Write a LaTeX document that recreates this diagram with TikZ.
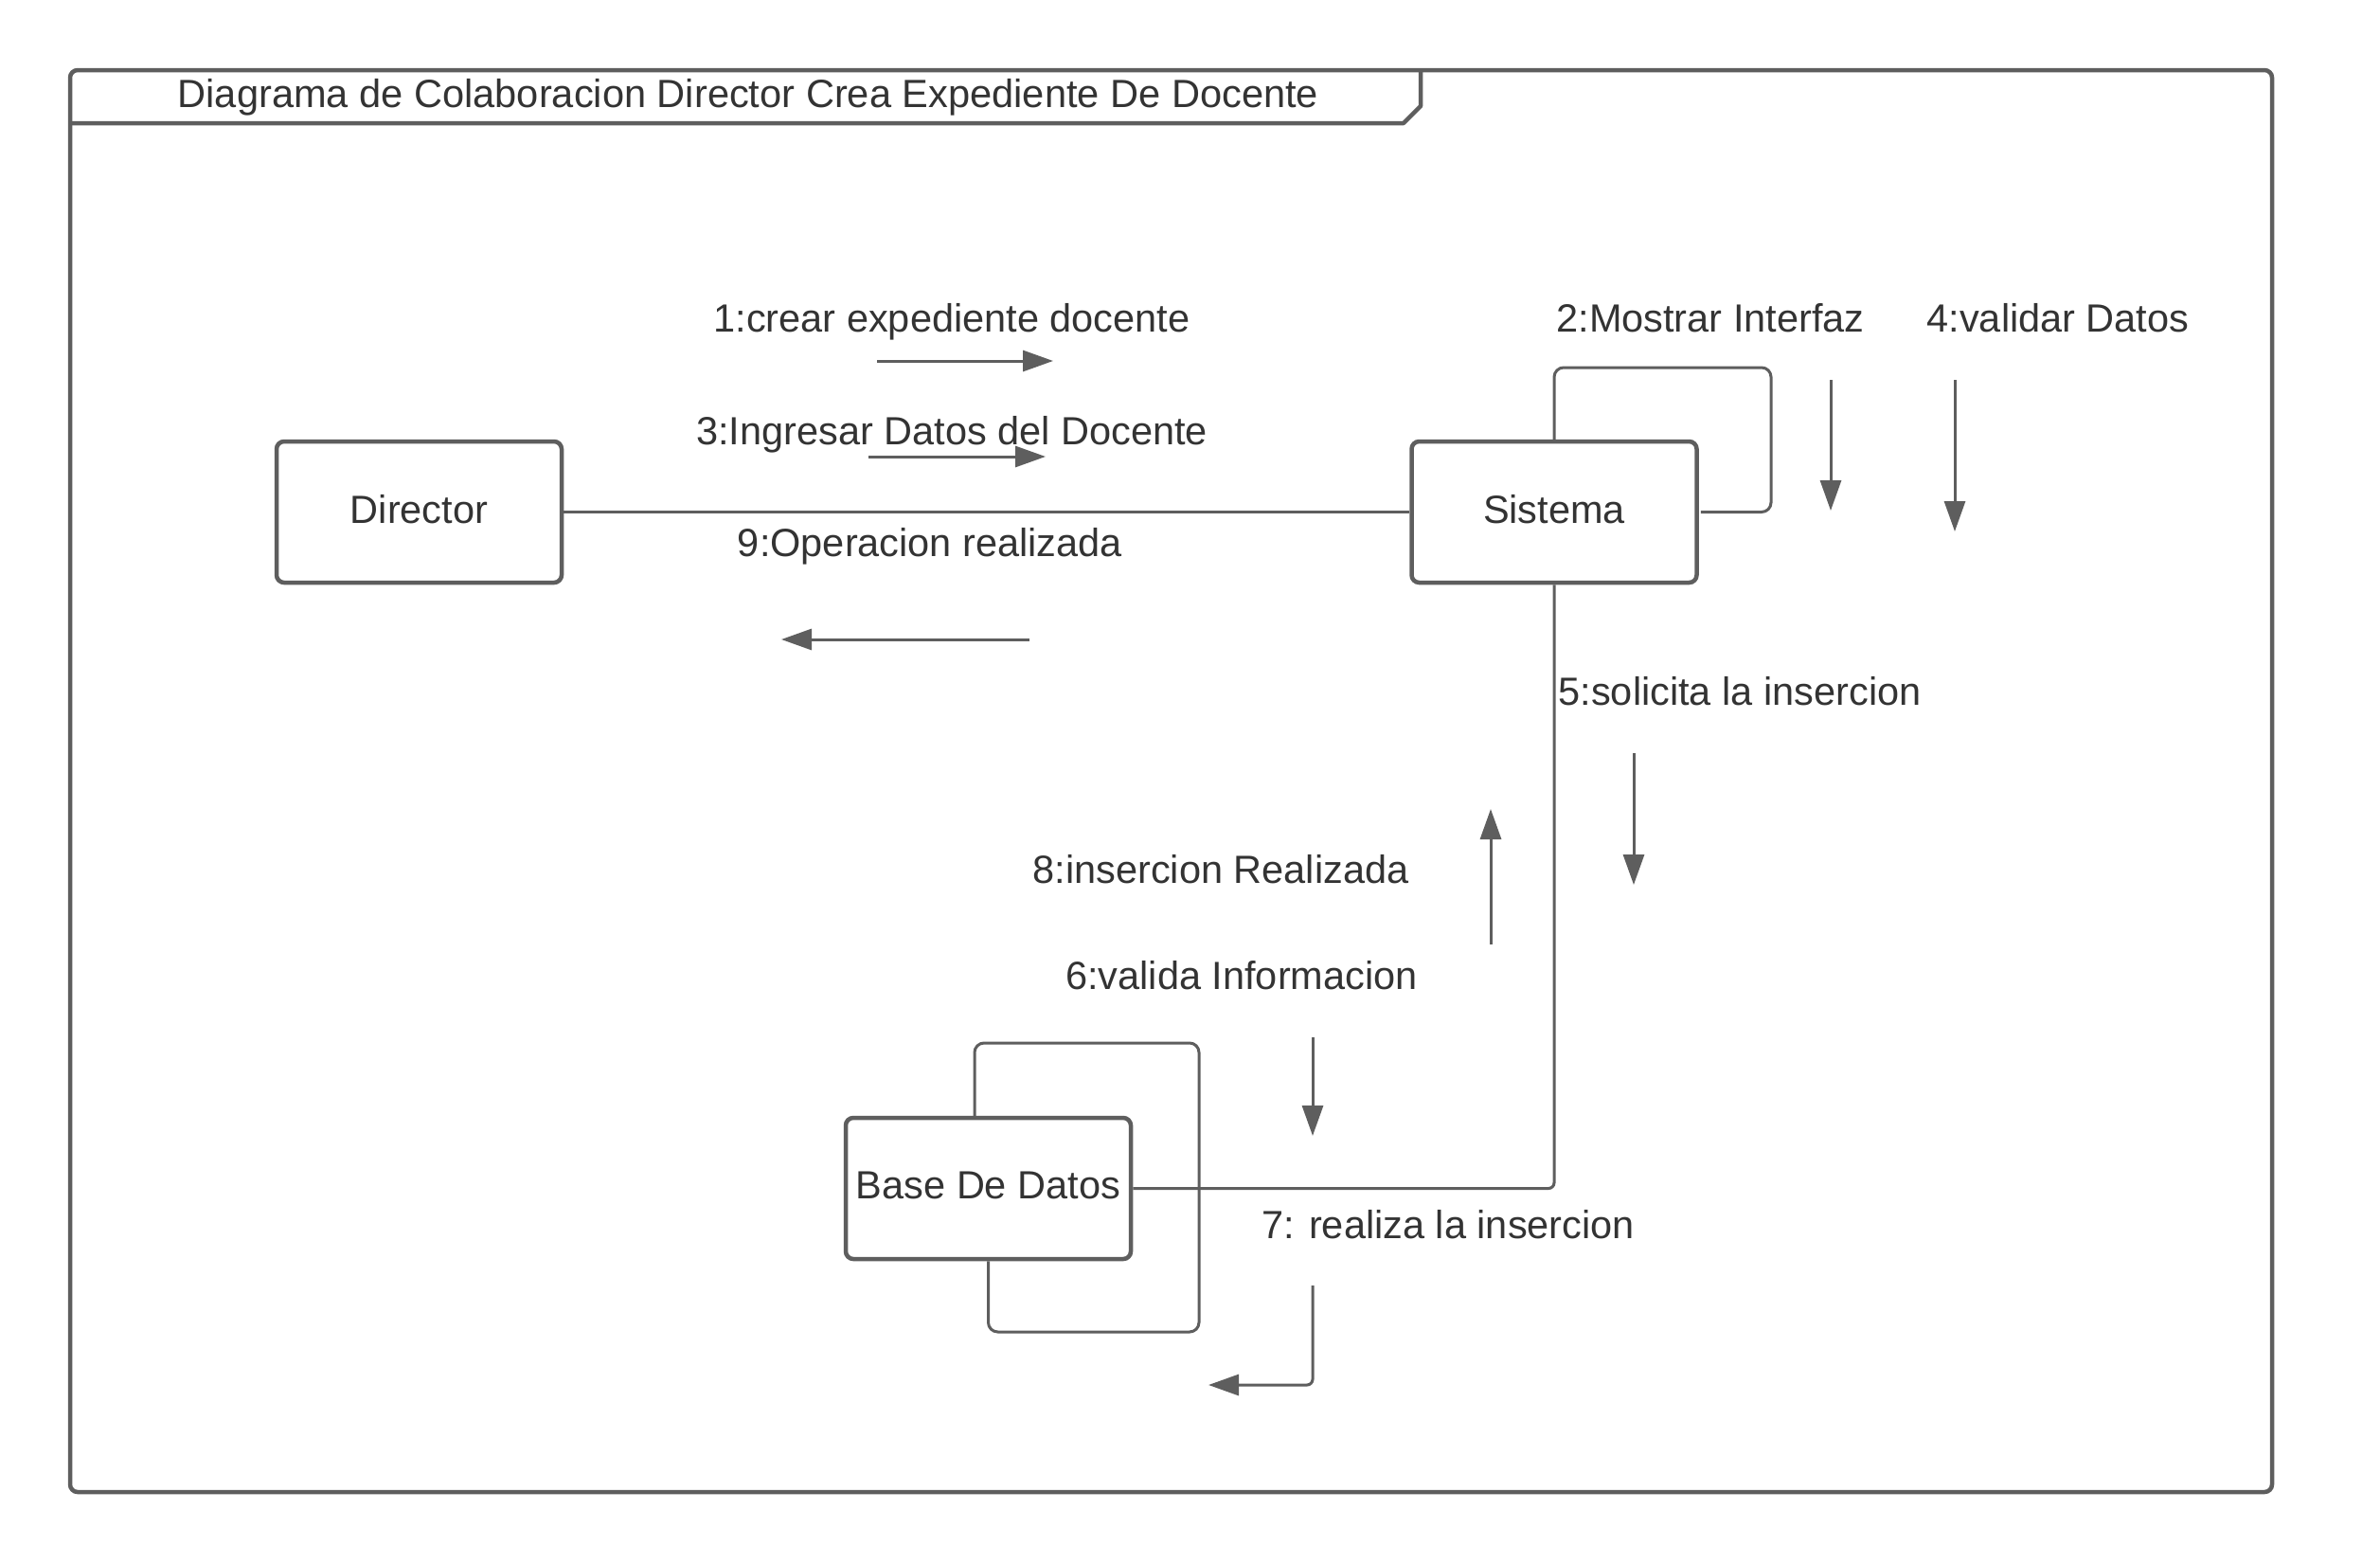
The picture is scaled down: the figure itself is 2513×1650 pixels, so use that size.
\documentclass[tikz,border=0pt]{standalone}
\usepackage{fontspec}
\setmainfont{Liberation Sans}
\usetikzlibrary{arrows.meta}
\definecolor{ln}{HTML}{5E5E5E}
\definecolor{tx}{HTML}{333333}
\begin{document}
\begin{tikzpicture}[x=1pt,y=-1pt,
  lbl/.style={font=\fontsize{41.5}{49}\selectfont, text=tx, anchor=base, inner sep=0pt},
  obj/.style={draw=ln, line width=4.5pt, rounded corners=8pt, minimum width=301pt, minimum height=149pt, fill=white, font=\fontsize{41.5}{49}\selectfont, text=tx, inner sep=0pt},
  objtext/.style={font=\fontsize{41.5}{49}\selectfont, text=tx, inner sep=0pt, yshift=3pt},
  conn/.style={draw=ln, line width=3pt},
  msg/.style={draw=ln, line width=3pt, -{Triangle[length=32pt,width=22pt]}},
  loopline/.style={draw=ln, line width=3pt, rounded corners=10pt},
  frame/.style={draw=ln, line width=4.5pt}]
\path[use as bounding box, fill=white] (0,0) rectangle (2513,1650);
% frame
\draw[frame, rounded corners=8pt] (74,74) rectangle (2399,1575);
\draw[frame, line join=round] (74,130) -- (1482,130) -- (1500,112) -- (1500,74);
\node[lbl, font=\fontsize{41.6}{49}\selectfont] (title) at (790,113) {Diagrama de Colaboracion Director Crea Expediente De Docente};
% objects
\node[obj] (dir) at (442.5,540.5) {};
\node[obj] (sis) at (1641,540.5) {};
\node[obj] (base) at (1043.5,1254.5) {};
\node[objtext] (dirt) at (dir.center) {Director};
\node[objtext] (sist) at (sis.center) {Sistema};
\node[objtext] (baset) at (base.center) {Base De Datos};
% links
\draw[conn] (dir.east) -- (sis.west);
\draw[conn, rounded corners=6pt] (sis.south) |- (base.east);
\draw[loopline] (sis.north) |- (1870,388) |- ([xshift=2pt]sis.east);
\draw[loopline] ([xshift=-14.5pt]base.north) |- (1266,1101) -- (1266,1406) -| (base.south);
% message coordinates
\coordinate (m1s) at (926,381);  \coordinate (m1e) at (1112,381);
\coordinate (m3s) at (917,482);  \coordinate (m3e) at (1104,482);
\coordinate (m9s) at (1087,675); \coordinate (m9e) at (825,675);
\coordinate (m2s) at (1933,401); \coordinate (m2e) at (1933,539);
\coordinate (m4s) at (2064,401); \coordinate (m4e) at (2064,561);
\coordinate (m5s) at (1725,795); \coordinate (m5e) at (1725,934);
\coordinate (m8s) at (1574,997); \coordinate (m8e) at (1574,854);
\coordinate (m6s) at (1386,1095); \coordinate (m6e) at (1386,1199);
\coordinate (m7s) at (1386,1357); \coordinate (m7c) at (1386,1462); \coordinate (m7e) at (1276,1462);
% messages
\draw[msg] (m1s) -- (m1e);
\draw[msg] (m3s) -- (m3e);
\draw[msg] (m9s) -- (m9e);
\draw[msg] (m2s) -- (m2e);
\draw[msg] (m4s) -- (m4e);
\draw[msg] (m5s) -- (m5e);
\draw[msg] (m8s) -- (m8e);
\draw[msg] (m6s) -- (m6e);
\draw[msg, rounded corners=6pt] (m7s) -- (m7c) -- (m7e);
% labels
\node[lbl] (l1) at (1005,350) {1:crear expediente docente};
\node[lbl] (l3) at (1005,469) {3:Ingresar Datos del Docente};
\node[lbl] (l9) at (982,587) {9:Operacion realizada};
\node[lbl] (l2) at (1806,350) {2:Mostrar Interfaz};
\node[lbl] (l4) at (2173,350) {4:validar Datos};
\node[lbl] (l5) at (1837,744) {5:solicita la insercion};
\node[lbl] (l8) at (1289,932) {8:insercion Realizada};
\node[lbl] (l6) at (1311,1044) {6:valida Informacion};
\node[lbl] (l7) at (1529,1307) {7: realiza la insercion};
\end{tikzpicture}
\end{document}
